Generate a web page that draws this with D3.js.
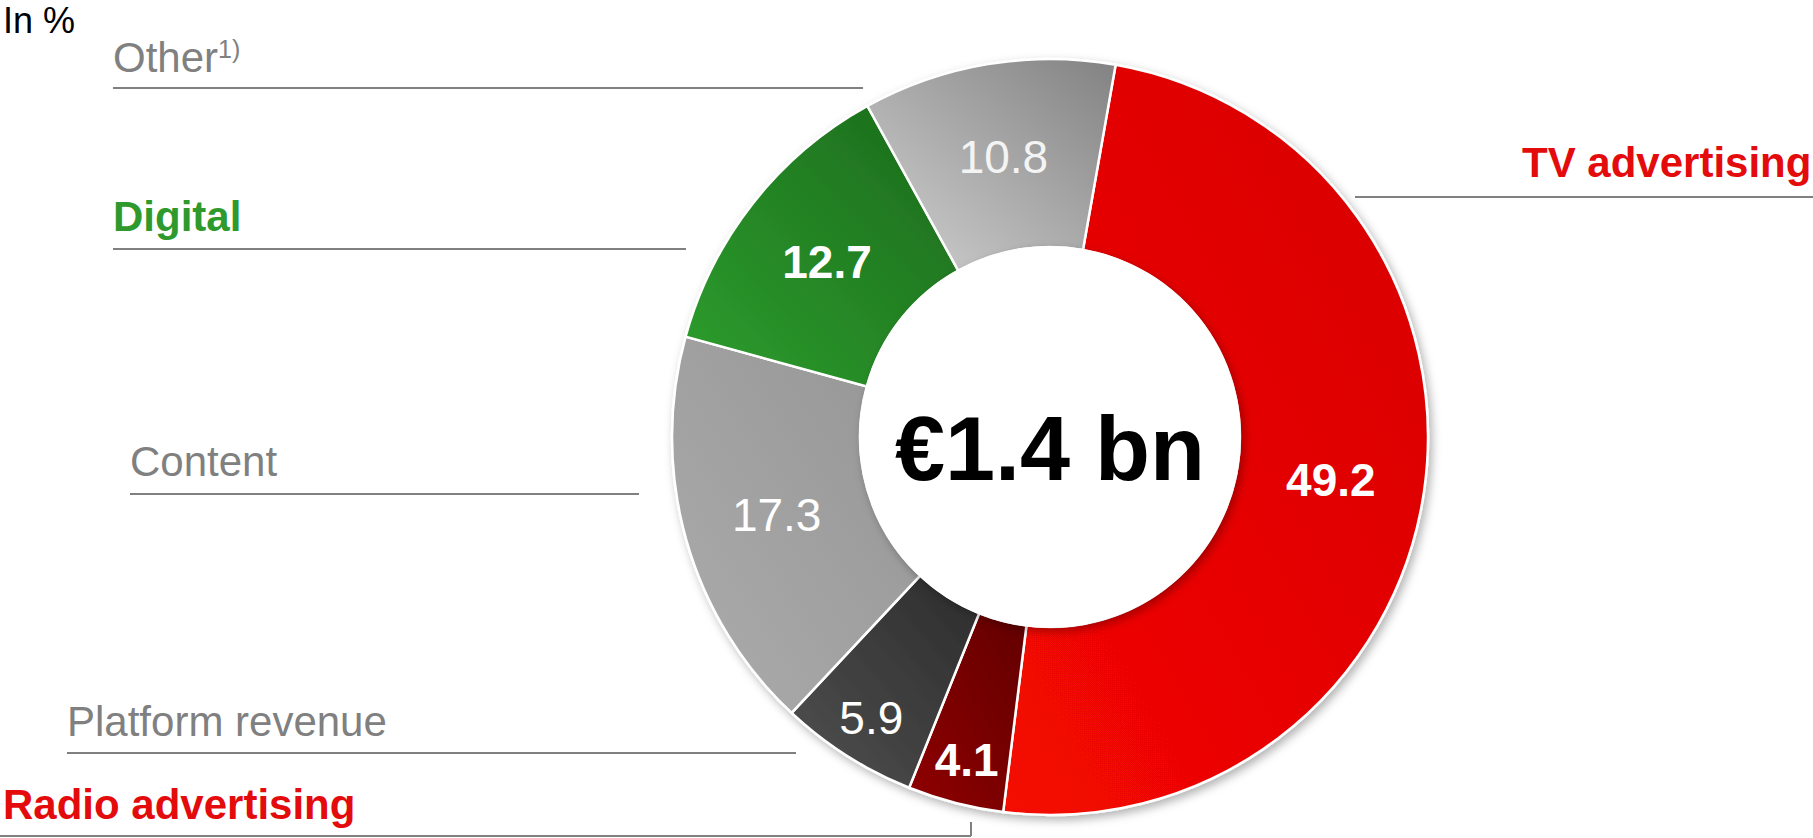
<!DOCTYPE html>
<meta charset="utf-8">
<html>
<head>
<script src="https://cdnjs.cloudflare.com/ajax/libs/d3/7.8.5/d3.min.js"></script>
<style>
  body { margin: 0; background: #fff; }
  text { font-family: Arial, "Liberation Sans", sans-serif; }
</style>
</head>
<body>
<div id="chart"></div>
<script>
// data
var categories = ["TV advertising", "Radio advertising", "Platform revenue", "Content", "Digital", "Other"];
var shares = [49.2, 4.1, 5.9, 17.3, 12.7, 10.8];
var totalLabel = "€1.4 bn";
var unitLabel = "In %";

// colours: [light, dark] gradient stops per slice
var sliceColors = [
  ["#f40800", "#d60000"],
  ["#900000", "#620000"],
  ["#505050", "#2c2c2c"],
  ["#acacac", "#959595"],
  ["#2d9e2d", "#1b6a1b"],
  ["#d2d2d2", "#828282"]
];
var labelColors = ["#e30b0b", "#e30b0b", "#808080", "#808080", "#2e9a2e", "#808080"];
var labelBold = [true, true, false, false, true, false];
var valueBold = [true, true, false, false, true, false];

// label placement (text x, baseline y, line x0, x1, line y)
var labelLayout = [
  {tx: 1522, ty: 177, x0: 1355, x1: 1813, ly: 197},
  {tx: 3, ty: 819, x0: 0, x1: 971, ly: 836, tick: 822},
  {tx: 67, ty: 736, x0: 67, x1: 796, ly: 753},
  {tx: 130, ty: 476, x0: 130, x1: 639, ly: 494},
  {tx: 113, ty: 231, x0: 113, x1: 686, ly: 249},
  {tx: 113, ty: 72, x0: 113, x1: 863, ly: 88}
];

var width = 1813, height = 838;
var cx = 1050, cy = 437, rOuter = 378, rInner = 190;

var svg = d3.select("#chart").append("svg")
  .attr("width", width)
  .attr("height", height);

var defs = svg.append("defs");

var shadow = defs.append("filter").attr("id", "shadow")
  .attr("x", "-20%").attr("y", "-20%").attr("width", "140%").attr("height", "140%");
shadow.append("feDropShadow")
  .attr("dx", 3).attr("dy", 4).attr("stdDeviation", 5)
  .attr("flood-color", "#000").attr("flood-opacity", 0.3);

sliceColors.forEach(function(c, i) {
  var g = defs.append("linearGradient").attr("id", "grad" + i)
    .attr("x1", "0%").attr("y1", "100%").attr("x2", "100%").attr("y2", "0%");
  g.append("stop").attr("offset", "0%").attr("stop-color", c[0]);
  g.append("stop").attr("offset", "100%").attr("stop-color", c[1]);
});

var data = categories.map(function(c, i) { return {name: c, value: shares[i], i: i}; });

var pie = d3.pie()
  .sort(null)
  .value(function(d) { return d.value; })
  .startAngle(10 * Math.PI / 180)
  .endAngle(10 * Math.PI / 180 + 2 * Math.PI);

var arc = d3.arc().innerRadius(rInner).outerRadius(rOuter);

var donut = svg.append("g").attr("transform", "translate(" + cx + "," + cy + ")");

// outer ring with shadow
var ring = donut.append("g").attr("filter", "url(#shadow)");
ring.selectAll("path")
  .data(pie(data))
  .enter().append("path")
  .attr("d", arc)
  .attr("fill", function(d) { return "url(#grad" + d.data.i + ")"; })
  .attr("stroke", "#fff")
  .attr("stroke-width", 2.5);

// inner white disc casting a shadow on the ring
donut.append("circle")
  .attr("r", rInner)
  .attr("fill", "#fff")
  .attr("stroke", "#fff")
  .attr("stroke-width", 2)
  .attr("filter", "url(#shadow)");

// values in slices
donut.selectAll("text.val")
  .data(pie(data))
  .enter().append("text")
  .attr("class", "val")
  .attr("transform", function(d) {
    var a = (d.startAngle + d.endAngle) / 2;
    var r = d.data.value < 7 ? rOuter * 0.88 : (rInner + rOuter) / 2;
    return "translate(" + (Math.sin(a) * r) + "," + (-Math.cos(a) * r) + ")";
  })
  .attr("dy", "0.36em")
  .attr("text-anchor", "middle")
  .style("font-size", "46px")
  .style("font-weight", function(d) { return valueBold[d.data.i] ? "bold" : "normal"; })
  .attr("fill", function(d) { return d.data.i === 5 ? "#f4f4f4" : "#fff"; })
  .text(function(d) { return d.data.value.toFixed(1); });

donut.append("text")
  .attr("text-anchor", "middle")
  .attr("y", 43)
  .style("font-size", "90px")
  .style("font-weight", "bold")
  .attr("fill", "#000")
  .text(totalLabel);

// category labels and their rules
var labels = svg.append("g");
data.forEach(function(d, i) {
  var L = labelLayout[i];
  var t = labels.append("text")
    .attr("x", L.tx).attr("y", L.ty)
    .style("font-size", "42px")
    .style("font-weight", labelBold[i] ? "bold" : "normal")
    .attr("fill", labelColors[i])
    .text(d.name);
  if (d.name === "Other") {
    t.append("tspan").attr("dy", -14).style("font-size", "25px").text("1)");
  }
  labels.append("line")
    .attr("x1", L.x0).attr("x2", L.x1)
    .attr("y1", L.ly).attr("y2", L.ly)
    .attr("stroke", "#808080").attr("stroke-width", 2);
  if (L.tick) {
    labels.append("line")
      .attr("x1", L.x1).attr("x2", L.x1)
      .attr("y1", L.ly).attr("y2", L.tick)
      .attr("stroke", "#808080").attr("stroke-width", 2);
  }
});

svg.append("text")
  .attr("x", 3).attr("y", 33)
  .style("font-size", "36px")
  .attr("fill", "#000")
  .text(unitLabel);
</script>
</body>
</html>
